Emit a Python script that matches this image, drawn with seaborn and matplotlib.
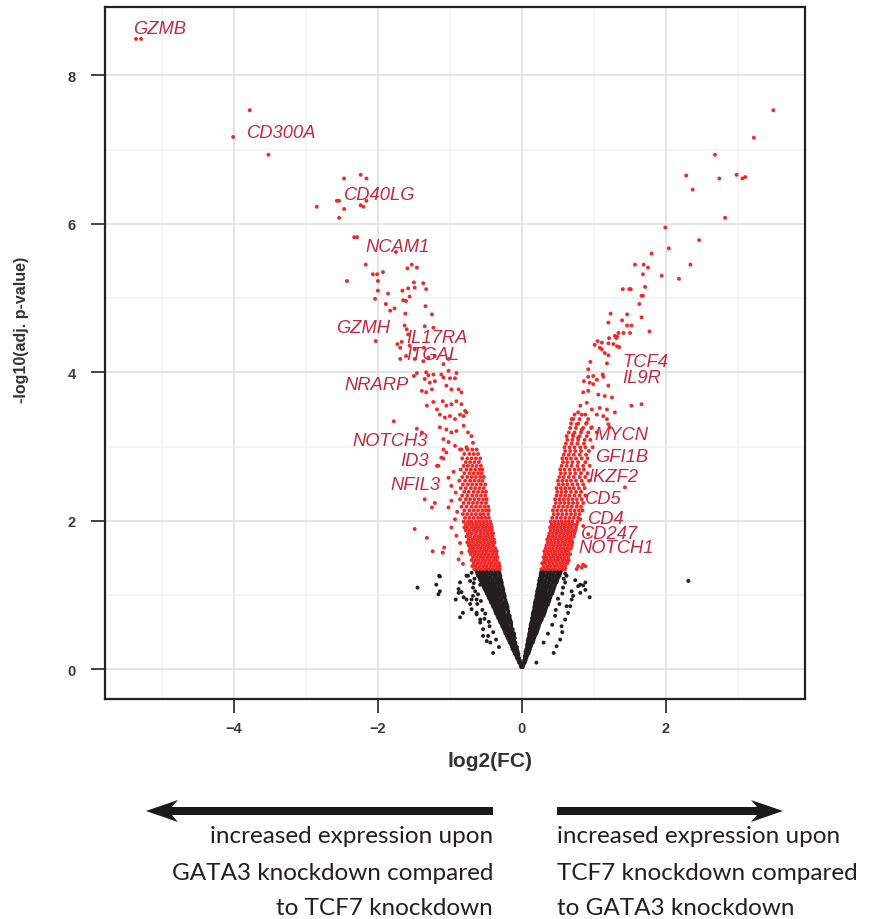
import matplotlib
matplotlib.use("Agg")
import matplotlib.pyplot as plt
import seaborn as sns
import pandas as pd
from matplotlib.patches import Polygon

# ---------------- data ----------------
# sparse significant points, left side (log2FC, -log10 adj p)
red_left_sparse = [
    (-5.36, 8.49), (-5.29, 8.49), (-3.78, 7.53), (-4.01, 7.17), (-3.52, 6.93),
    (-2.47, 6.61), (-2.24, 6.66), (-2.16, 6.61), (-2.85, 6.23), (-2.57, 6.31), (-2.54, 6.31),
    (-2.47, 6.20), (-2.24, 6.25), (-2.20, 6.23), (-2.16, 6.31), (-2.54, 6.08), (-2.33, 5.82), (-2.29, 5.82),
    (-1.75, 5.62), (-2.17, 5.45), (-2.07, 5.32), (-2.01, 5.32), (-1.93, 5.35), (-2.43, 5.23), (-2.00, 5.23),
    (-1.59, 5.40), (-1.53, 5.45), (-1.46, 5.41), (-1.50, 5.21), (-1.37, 5.20), (-1.49, 5.14), (-2.00, 5.10),
    (-1.86, 5.06), (-1.66, 5.10), (-1.58, 5.13), (-1.33, 5.12), (-2.04, 4.99), (-1.65, 4.97), (-1.61, 4.96),
    (-1.56, 5.02), (-1.89, 4.92), (-1.34, 4.89), (-1.83, 4.83), (-1.77, 4.86), (-1.62, 4.79), (-1.25, 4.78),
    (-1.63, 4.63), (-1.35, 4.62), (-1.23, 4.60), (-2.03, 4.42), (-1.60, 4.58), (-1.58, 4.51), (-1.73, 4.38),
    (-1.67, 4.41), (-1.69, 4.33), (-1.56, 4.36), (-1.49, 4.31), (-1.36, 4.33), (-1.69, 4.18), (-1.61, 4.22),
    (-1.49, 4.18), (-1.37, 4.15), (-1.30, 4.20), (-1.21, 4.22), (-1.09, 4.11), (-1.02, 4.18), (-1.46, 3.99),
    (-1.50, 3.95), (-1.33, 4.00), (-1.30, 3.96), (-1.23, 3.97), (-1.12, 3.97), (-1.02, 4.02), (-0.91, 3.99),
    (-1.35, 3.91), (-1.28, 3.86), (-1.21, 3.88), (-1.09, 3.93), (-1.00, 3.92), (-0.93, 3.92), (-1.39, 3.75),
    (-1.33, 3.73), (-1.25, 3.77), (-1.05, 3.82), (-0.98, 3.77), (-0.88, 3.77), (-0.84, 3.73), (-1.32, 3.55),
    (-1.23, 3.60), (-1.18, 3.50), (-1.10, 3.61), (-1.05, 3.55), (-0.98, 3.57), (-0.91, 3.61), (-0.84, 3.57),
    (-0.79, 3.48), (-1.78, 3.34), (-1.14, 3.43), (-1.07, 3.39), (-1.00, 3.41), (-0.93, 3.37), (-0.86, 3.43),
    (-0.81, 3.41), (-0.77, 3.46), (-1.46, 3.24), (-1.39, 3.19), (-1.14, 3.26), (-1.05, 3.23), (-0.98, 3.19),
    (-0.91, 3.21), (-0.81, 3.28), (-0.75, 3.19), (-0.70, 3.14), (-0.68, 3.05), (-1.09, 3.10), (-1.02, 3.06),
    (-0.93, 3.01), (-0.86, 2.96), (-0.77, 2.99), (-1.09, 2.96), (-1.05, 2.92), (-1.18, 2.74), (-1.09, 2.84),
    (-1.49, 1.89), (-1.32, 1.77), (-1.24, 1.59), (-1.10, 1.57), (-1.08, 1.64), (-1.35, 2.29), (-1.25, 2.18),
    (-1.21, 2.24), (-1.16, 2.74), (-1.12, 2.85), (-0.98, 2.27), (-1.02, 2.18), (-0.93, 2.02), (-0.98, 1.91),
    (-0.88, 1.48), (-0.84, 1.57), (-0.91, 1.80), (-1.02, 2.58), (-0.98, 2.47), (-0.92, 2.38), (-0.95, 2.66),
    (-0.90, 2.12), (-0.86, 1.70), (-0.82, 1.42),
]

red_right_sparse = [
    (3.49, 7.53), (3.22, 7.16), (2.68, 6.93), (2.28, 6.65), (2.74, 6.61), (2.98, 6.66), (3.06, 6.61),
    (3.10, 6.63), (2.37, 6.46), (2.82, 6.08), (1.99, 5.95), (2.46, 5.78), (2.04, 5.67), (1.80, 5.60),
    (2.34, 5.45), (1.57, 5.45), (1.69, 5.45), (1.75, 5.41), (1.68, 5.32), (1.94, 5.30), (2.18, 5.26),
    (1.71, 5.15), (1.40, 5.12), (1.49, 5.12), (1.51, 5.12), (1.66, 5.03), (1.68, 5.03), (1.63, 4.92),
    (1.23, 4.79), (1.46, 4.78), (1.66, 4.74), (1.20, 4.67), (1.39, 4.70), (1.46, 4.63), (1.52, 4.63),
    (1.77, 4.55), (1.34, 4.53), (1.29, 4.49), (1.41, 4.53), (1.50, 4.53), (1.21, 4.46), (1.31, 4.46),
    (1.32, 4.48), (1.05, 4.42), (1.11, 4.40), (1.01, 4.37), (1.20, 4.39), (1.27, 4.38), (1.32, 4.35),
    (1.35, 4.34), (1.08, 4.33), (1.11, 4.31), (1.15, 4.26), (1.20, 4.23), (0.95, 4.14), (1.18, 4.12),
    (0.92, 4.04), (0.92, 3.94), (0.99, 3.95), (1.12, 3.97), (1.13, 3.94), (0.86, 3.88), (0.94, 3.86),
    (1.04, 3.90), (0.85, 3.73), (0.92, 3.75), (1.06, 3.70), (1.15, 3.68), (1.20, 3.82), (1.25, 3.66),
    (0.99, 3.84), (1.52, 3.55), (1.66, 3.57), (0.81, 3.55), (0.90, 3.59), (0.97, 3.50), (1.08, 3.52),
    (1.18, 3.50), (1.29, 3.46), (0.78, 3.46), (0.88, 3.43), (1.04, 3.43), (1.13, 3.41), (1.18, 3.37),
    (1.20, 3.30), (1.22, 3.26), (0.69, 3.37), (0.76, 3.30), (0.83, 3.23), (0.90, 3.32), (0.97, 3.26),
    (1.04, 3.19), (0.71, 3.16), (0.78, 3.12),
    (0.78, 1.39), (0.85, 1.41), (1.43, 2.45), (0.81, 2.02), (0.85, 1.93), (0.92, 1.82), (0.76, 1.35),
    (0.83, 1.37), (0.88, 1.39),
]

# dense significant bands: (-log10 p, [log2FC values])
red_left_band = [
    (1.35, [-0.66, -0.61, -0.56, -0.51, -0.46, -0.41, -0.36, -0.31]),
    (1.39, [-0.69, -0.64, -0.59, -0.54, -0.49, -0.44, -0.39, -0.34, -0.31]),
    (1.43, [-0.67, -0.62, -0.57, -0.52, -0.47, -0.42, -0.37, -0.32]),
    (1.47, [-0.70, -0.65, -0.60, -0.55, -0.50, -0.45, -0.40, -0.35]),
    (1.51, [-0.68, -0.63, -0.58, -0.53, -0.48, -0.43, -0.38, -0.34]),
    (1.55, [-0.71, -0.66, -0.61, -0.56, -0.51, -0.46, -0.41, -0.36]),
    (1.59, [-0.73, -0.69, -0.64, -0.59, -0.54, -0.49, -0.44, -0.39, -0.35]),
    (1.63, [-0.72, -0.67, -0.62, -0.57, -0.52, -0.47, -0.42, -0.37]),
    (1.67, [-0.74, -0.70, -0.65, -0.60, -0.55, -0.50, -0.45, -0.40]),
    (1.71, [-0.76, -0.72, -0.67, -0.62, -0.57, -0.52, -0.47, -0.42, -0.38]),
    (1.75, [-0.74, -0.69, -0.64, -0.59, -0.54, -0.49, -0.44, -0.39]),
    (1.79, [-0.77, -0.72, -0.66, -0.61, -0.56, -0.51, -0.46, -0.41]),
    (1.83, [-0.75, -0.70, -0.64, -0.58, -0.53, -0.48, -0.43, -0.40]),
    (1.87, [-0.78, -0.73, -0.67, -0.62, -0.57, -0.52, -0.47, -0.42]),
    (1.91, [-0.80, -0.76, -0.70, -0.65, -0.60, -0.55, -0.50, -0.45, -0.42]),
    (1.95, [-0.78, -0.73, -0.68, -0.63, -0.58, -0.53, -0.48, -0.43]),
    (1.99, [-0.81, -0.75, -0.70, -0.64, -0.59, -0.54, -0.49, -0.44]),
    (2.04, [-0.79, -0.73, -0.67, -0.61, -0.56, -0.51, -0.46]),
    (2.09, [-0.82, -0.76, -0.70, -0.64, -0.58, -0.53, -0.47]),
    (2.14, [-0.80, -0.73, -0.67, -0.61, -0.55, -0.50, -0.46]),
    (2.19, [-0.84, -0.77, -0.70, -0.64, -0.58, -0.52, -0.47]),
    (2.24, [-0.81, -0.74, -0.68, -0.62, -0.56, -0.50]),
    (2.29, [-0.86, -0.78, -0.72, -0.66, -0.60, -0.54, -0.49]),
    (2.34, [-0.83, -0.76, -0.69, -0.63, -0.57, -0.51]),
    (2.39, [-0.80, -0.74, -0.67, -0.61, -0.55, -0.50]),
    (2.44, [-0.85, -0.78, -0.71, -0.65, -0.59, -0.53]),
    (2.49, [-0.82, -0.75, -0.69, -0.63, -0.57, -0.51]),
    (2.54, [-0.87, -0.79, -0.72, -0.66, -0.60, -0.55]),
    (2.59, [-0.83, -0.76, -0.70, -0.64, -0.58, -0.53]),
    (2.64, [-0.80, -0.73, -0.67, -0.61, -0.56]),
    (2.69, [-0.85, -0.77, -0.71, -0.65, -0.59, -0.55]),
    (2.74, [-0.81, -0.75, -0.69, -0.63, -0.57]),
    (2.79, [-0.78, -0.72, -0.66, -0.60]),
    (2.84, [-0.83, -0.76, -0.70, -0.64, -0.58]),
    (2.90, [-0.80, -0.73, -0.67, -0.61]),
    (2.96, [-0.84, -0.76, -0.69, -0.63]),
]

red_right_band = [
    (1.35, [0.27, 0.32, 0.37, 0.42, 0.47, 0.52, 0.57, 0.60]),
    (1.39, [0.30, 0.35, 0.40, 0.45, 0.50, 0.55, 0.60]),
    (1.43, [0.28, 0.33, 0.38, 0.43, 0.48, 0.53, 0.58, 0.63]),
    (1.47, [0.31, 0.36, 0.41, 0.46, 0.51, 0.56, 0.61, 0.65]),
    (1.51, [0.30, 0.34, 0.39, 0.44, 0.49, 0.54, 0.59, 0.64]),
    (1.55, [0.32, 0.37, 0.42, 0.47, 0.52, 0.57, 0.62, 0.67]),
    (1.59, [0.31, 0.35, 0.40, 0.45, 0.50, 0.55, 0.60, 0.65]),
    (1.63, [0.33, 0.38, 0.43, 0.48, 0.53, 0.58, 0.63, 0.68]),
    (1.67, [0.34, 0.39, 0.44, 0.49, 0.54, 0.59, 0.64, 0.69]),
    (1.71, [0.36, 0.41, 0.46, 0.51, 0.56, 0.61, 0.66, 0.70]),
    (1.75, [0.35, 0.40, 0.45, 0.50, 0.55, 0.60, 0.65, 0.69]),
    (1.79, [0.37, 0.42, 0.47, 0.52, 0.57, 0.62, 0.67, 0.72]),
    (1.83, [0.38, 0.43, 0.48, 0.53, 0.58, 0.63, 0.68, 0.73]),
    (1.87, [0.40, 0.45, 0.50, 0.55, 0.60, 0.65, 0.70, 0.74]),
    (1.91, [0.39, 0.44, 0.49, 0.54, 0.59, 0.64, 0.69, 0.75]),
    (1.95, [0.41, 0.46, 0.51, 0.56, 0.61, 0.66, 0.71, 0.76]),
    (1.99, [0.40, 0.45, 0.50, 0.55, 0.60, 0.65, 0.70, 0.77]),
    (2.04, [0.42, 0.48, 0.54, 0.60, 0.66, 0.72, 0.78]),
    (2.09, [0.44, 0.50, 0.56, 0.62, 0.68, 0.74, 0.80]),
    (2.14, [0.43, 0.49, 0.55, 0.61, 0.67, 0.73, 0.79, 0.84]),
    (2.19, [0.45, 0.51, 0.57, 0.63, 0.69, 0.76, 0.82]),
    (2.24, [0.47, 0.53, 0.59, 0.65, 0.71, 0.77, 0.85]),
    (2.29, [0.46, 0.52, 0.58, 0.64, 0.70, 0.76, 0.83]),
    (2.34, [0.48, 0.54, 0.60, 0.66, 0.73, 0.80, 0.88]),
    (2.39, [0.49, 0.55, 0.61, 0.68, 0.75, 0.82]),
    (2.44, [0.48, 0.54, 0.60, 0.66, 0.72, 0.79, 0.87]),
    (2.49, [0.51, 0.57, 0.63, 0.70, 0.77, 0.85]),
    (2.54, [0.50, 0.56, 0.62, 0.68, 0.75, 0.83, 0.93]),
    (2.59, [0.52, 0.58, 0.65, 0.72, 0.80, 0.88]),
    (2.64, [0.54, 0.60, 0.67, 0.74, 0.82, 0.91]),
    (2.69, [0.53, 0.59, 0.66, 0.73, 0.79, 0.86]),
    (2.74, [0.55, 0.62, 0.69, 0.77, 0.85, 0.94]),
    (2.79, [0.57, 0.63, 0.70, 0.78, 0.88]),
    (2.84, [0.56, 0.62, 0.68, 0.75, 0.83, 0.91]),
    (2.89, [0.58, 0.65, 0.72, 0.80, 0.89]),
    (2.94, [0.60, 0.67, 0.74, 0.82, 0.93]),
    (2.99, [0.59, 0.66, 0.73, 0.81, 0.88, 0.98]),
    (3.04, [0.61, 0.69, 0.77, 0.86]),
    (3.09, [0.63, 0.70, 0.78, 0.87, 0.95]),
    (3.14, [0.62, 0.71, 0.80, 0.90]),
    (3.19, [0.65, 0.73, 0.82, 0.92]),
    (3.25, [0.67, 0.75, 0.85, 0.96]),
    (3.31, [0.68, 0.78, 0.89]),
    (3.37, [0.71, 0.80, 0.92]),
    (3.43, [0.73, 0.83]),
]

# non-significant core (black), as rows
black_left_band = [
    (0.03, [-0.01]), (0.06, [-0.02]), (0.09, [-0.04, -0.02]), (0.12, [-0.05, -0.03]),
    (0.15, [-0.07, -0.04]), (0.18, [-0.08, -0.05]), (0.21, [-0.10, -0.07, -0.05]),
    (0.24, [-0.11, -0.08, -0.06]), (0.27, [-0.13, -0.10, -0.07]), (0.30, [-0.14, -0.11, -0.07]),
    (0.33, [-0.15, -0.12, -0.09]), (0.36, [-0.17, -0.13, -0.09]), (0.39, [-0.18, -0.15, -0.11]),
    (0.42, [-0.20, -0.16, -0.12, -0.10]), (0.45, [-0.21, -0.18, -0.14, -0.11]),
    (0.48, [-0.23, -0.19, -0.15, -0.11]), (0.51, [-0.24, -0.21, -0.17, -0.13]),
    (0.54, [-0.25, -0.22, -0.18, -0.13]), (0.57, [-0.27, -0.23, -0.19, -0.15]),
    (0.60, [-0.28, -0.24, -0.20, -0.15]), (0.63, [-0.30, -0.26, -0.22, -0.18, -0.15]),
    (0.66, [-0.31, -0.27, -0.23, -0.19, -0.16]), (0.69, [-0.33, -0.29, -0.25, -0.21, -0.17]),
    (0.72, [-0.34, -0.30, -0.26, -0.22, -0.17]), (0.75, [-0.36, -0.32, -0.28, -0.24, -0.19]),
    (0.78, [-0.37, -0.33, -0.29, -0.25, -0.19]), (0.81, [-0.38, -0.34, -0.30, -0.26, -0.22, -0.20]),
    (0.84, [-0.40, -0.36, -0.32, -0.28, -0.24, -0.20]), (0.87, [-0.41, -0.37, -0.33, -0.29, -0.25, -0.21]),
    (0.90, [-0.43, -0.39, -0.35, -0.31, -0.26, -0.22]), (0.93, [-0.44, -0.40, -0.36, -0.32, -0.28, -0.23]),
    (0.96, [-0.46, -0.42, -0.38, -0.34, -0.29, -0.24]),
    (0.99, [-0.47, -0.43, -0.39, -0.35, -0.31, -0.26, -0.24]),
    (1.02, [-0.49, -0.45, -0.41, -0.37, -0.32, -0.28, -0.25]),
    (1.05, [-0.50, -0.46, -0.42, -0.38, -0.34, -0.29, -0.26]),
    (1.08, [-0.52, -0.48, -0.44, -0.40, -0.35, -0.31, -0.26]),
    (1.11, [-0.53, -0.49, -0.45, -0.41, -0.37, -0.32, -0.27]),
    (1.14, [-0.55, -0.51, -0.47, -0.43, -0.38, -0.33, -0.28]),
    (1.17, [-0.56, -0.52, -0.48, -0.44, -0.40, -0.35, -0.31, -0.28]),
    (1.20, [-0.58, -0.54, -0.50, -0.46, -0.41, -0.36, -0.32, -0.29]),
    (1.23, [-0.59, -0.55, -0.51, -0.47, -0.43, -0.38, -0.34, -0.30]),
    (1.26, [-0.61, -0.57, -0.53, -0.49, -0.44, -0.39, -0.35, -0.30]),
    (1.29, [-0.62, -0.58, -0.54, -0.50, -0.46, -0.41, -0.36, -0.31]),
    (1.32, [-0.63, -0.59, -0.55, -0.51, -0.47, -0.42, -0.37, -0.32]),
]

black_right_band = [
    (0.03, [0.01]), (0.06, [0.02]), (0.09, [0.02, 0.04]), (0.12, [0.03, 0.05]),
    (0.15, [0.04, 0.06]), (0.18, [0.04, 0.07]), (0.21, [0.05, 0.07, 0.09]),
    (0.24, [0.05, 0.08, 0.10]), (0.27, [0.06, 0.09, 0.11]), (0.30, [0.07, 0.10, 0.12]),
    (0.33, [0.07, 0.10, 0.13]), (0.36, [0.08, 0.11, 0.15]), (0.39, [0.08, 0.12, 0.16]),
    (0.42, [0.09, 0.12, 0.15, 0.17]), (0.45, [0.10, 0.13, 0.16, 0.18]),
    (0.48, [0.10, 0.14, 0.17, 0.20]), (0.51, [0.11, 0.14, 0.18, 0.21]),
    (0.54, [0.11, 0.15, 0.19, 0.22]), (0.57, [0.12, 0.16, 0.20, 0.23]),
    (0.60, [0.12, 0.16, 0.20, 0.24]), (0.63, [0.13, 0.17, 0.21, 0.25]),
    (0.66, [0.14, 0.18, 0.22, 0.26, 0.27]), (0.69, [0.14, 0.18, 0.22, 0.26, 0.28]),
    (0.72, [0.15, 0.19, 0.23, 0.27, 0.30]), (0.75, [0.15, 0.19, 0.23, 0.27, 0.31]),
    (0.78, [0.16, 0.20, 0.24, 0.28, 0.32]), (0.81, [0.17, 0.21, 0.25, 0.29, 0.33]),
    (0.84, [0.17, 0.21, 0.25, 0.29, 0.34]), (0.87, [0.18, 0.22, 0.26, 0.30, 0.34, 0.36]),
    (0.90, [0.18, 0.22, 0.26, 0.30, 0.34, 0.37]), (0.93, [0.19, 0.23, 0.27, 0.31, 0.35, 0.38]),
    (0.96, [0.20, 0.24, 0.28, 0.32, 0.36, 0.39]), (0.99, [0.20, 0.24, 0.28, 0.32, 0.36, 0.40]),
    (1.02, [0.21, 0.25, 0.29, 0.33, 0.37, 0.42]), (1.05, [0.21, 0.25, 0.29, 0.33, 0.38, 0.43]),
    (1.08, [0.22, 0.26, 0.30, 0.34, 0.39, 0.44]), (1.11, [0.23, 0.27, 0.31, 0.35, 0.40, 0.45]),
    (1.14, [0.23, 0.27, 0.31, 0.36, 0.41, 0.46]), (1.17, [0.24, 0.28, 0.32, 0.37, 0.42, 0.46, 0.48]),
    (1.20, [0.24, 0.28, 0.33, 0.38, 0.42, 0.47, 0.49]), (1.23, [0.25, 0.29, 0.34, 0.38, 0.43, 0.48, 0.50]),
    (1.26, [0.26, 0.30, 0.34, 0.39, 0.44, 0.48, 0.52]), (1.29, [0.26, 0.30, 0.35, 0.40, 0.44, 0.49, 0.53]),
    (1.32, [0.27, 0.31, 0.36, 0.40, 0.45, 0.50, 0.54]),
]

black_sparse = [
    (-1.14, 1.25), (-0.88, 1.08), (-0.84, 1.04), (-0.92, 0.94), (-0.81, 0.97), (-0.77, 0.94),
    (-0.68, 0.99), (-0.63, 0.94), (-0.70, 0.81), (-0.63, 0.74), (-0.82, 0.76), (-0.86, 0.70),
    (-0.58, 0.63), (-0.54, 0.54), (-0.47, 0.45), (-0.40, 0.22), (-0.44, 0.36), (-0.58, 1.14),
    (-0.72, 1.19), (-0.68, 1.10), (-0.77, 1.26), (-1.45, 1.10), (-1.15, 1.26), (-1.19, 1.14),
    (-1.14, 1.05), (-1.16, 1.01), (-0.86, 1.17), (-0.75, 1.26), (-0.70, 0.94), (-0.72, 0.88),
    (-0.54, 0.45), (-0.49, 0.38), (-0.88, 1.03), (-0.58, 0.67), (-0.63, 0.76), (-0.66, 1.22),
    (-0.65, 1.05), (-0.62, 0.88), (-0.55, 0.80), (-0.52, 0.68), (-0.45, 0.58), (-0.40, 0.50),
    (-0.36, 0.40), (-0.32, 0.30), (-0.70, 1.30), (-0.67, 1.16), (-0.61, 1.01), (-0.57, 0.92),
    (-0.51, 0.75), (-0.46, 0.64),
    (0.81, 1.14), (0.88, 1.17), (0.94, 0.97), (0.69, 1.05), (0.71, 0.99), (0.62, 1.26), (0.60, 1.17),
    (0.67, 0.85), (0.64, 0.76), (0.55, 0.58), (0.53, 0.40), (0.44, 0.22), (0.81, 1.03), (0.78, 1.12),
    (0.85, 1.13), (0.88, 1.07), (0.69, 0.94), (0.62, 0.85), (0.60, 0.67), (0.48, 0.31), (0.20, 0.09),
    (0.58, 1.22), (0.56, 1.02), (0.52, 0.88), (0.46, 0.72), (0.42, 0.60), (0.36, 0.48), (0.30, 0.36),
    (0.56, 0.50), (0.74, 1.20), (0.60, 1.29), (0.57, 1.10), (0.50, 0.95), (0.47, 0.80), (2.31, 1.19),
]

# gene labels
label_names = ["GZMB", "CD300A", "CD40LG", "NCAM1", "GZMH", "IL17RA", "ITGAL", "NRARP",
               "NOTCH3", "ID3", "NFIL3", "TCF4", "IL9R", "MYCN", "GFI1B", "IKZF2",
               "CD5", "CD4", "CD247", "NOTCH1"]
label_x = [-5.40, -3.82, -2.47, -2.17, -2.58, -1.60, -1.60, -2.47, -2.35, -1.69, -1.83,
           1.39, 1.39, 1.01, 1.01, 0.92, 0.88, 0.92, 0.82, 0.78]
label_y = [8.63, 7.23, 6.40, 5.70, 4.61, 4.47, 4.24, 3.84, 3.08, 2.81, 2.49,
           4.15, 3.93, 3.16, 2.86, 2.60, 2.30, 2.03, 1.83, 1.64]

x_ticks = [-4, -2, 0, 2]
y_ticks = [0, 2, 4, 6, 8]
x_label = "log2(FC)"
y_label = "-log10(adj. p-value)"
left_caption = ["increased expression upon", "GATA3 knockdown compared", "to TCF7 knockdown"]
right_caption = ["increased expression upon", "TCF7 knockdown compared", "to GATA3 knockdown"]

# ---------------- build table ----------------
rows = []
for band in (black_left_band, black_right_band):
    for y, xs in band:
        for x in xs:
            rows.append((x, y, "ns"))
for x, y in black_sparse:
    rows.append((x, y, "ns"))
for x, y in red_left_sparse + red_right_sparse:
    rows.append((x, y, "sig"))
for band in (red_left_band, red_right_band):
    for y, xs in band:
        for x in xs:
            rows.append((x, y, "sig"))
df = pd.DataFrame(rows, columns=["log2FC", "nlogp", "group"])

# ---------------- figure ----------------
sns.set_theme(style="white")
plt.rcParams["font.family"] = ["Liberation Sans", "DejaVu Sans"]

W, H = 895, 920
fig = plt.figure(figsize=(W / 100, H / 100), dpi=100)
ax = fig.add_axes([105 / W, 1 - 700 / H, 700 / W, 692 / H])

sns.scatterplot(data=df, x="log2FC", y="nlogp", hue="group",
                palette={"sig": "#ee2b2b", "ns": "#231f20"},
                s=8, linewidth=0, legend=False, ax=ax, zorder=3)

ax.set_xlim(-5.79, 3.93)
ax.set_ylim(-0.40, 8.92)
ax.set_xticks(x_ticks)
ax.set_yticks(y_ticks)
ax.set_xticks([-5, -3, -1, 1, 3], minor=True)
ax.set_yticks([1, 3, 5, 7], minor=True)
ax.grid(which="major", color="#e4e4e4", lw=1.4)
ax.grid(which="minor", color="#f2f2f2", lw=1.1)
ax.set_axisbelow(True)
for sp in ax.spines.values():
    sp.set_visible(True)
    sp.set_color("#222222")
    sp.set_linewidth(1.6)
ax.tick_params(which="major", direction="out", length=10, width=1.2, color="#222222",
               labelsize=10.5, labelcolor="#3a3a3a", bottom=True, left=True)
ax.tick_params(axis="x", which="major", pad=6)
ax.tick_params(axis="y", which="major", pad=11)
ax.tick_params(which="minor", length=0)
for lab in ax.get_xticklabels() + ax.get_yticklabels():
    lab.set_fontweight("bold")

ax.set_xlabel(x_label, fontsize=15, fontweight="bold", color="#333333")
ax.set_ylabel(y_label, fontsize=11.5, fontweight="bold", color="#333333")
ax.xaxis.set_label_coords((490 - 105) / 700, (700 - 752) / 692)
ax.yaxis.set_label_coords((29 - 105) / 700, (700 - 330) / 692)

for name, lx, ly in zip(label_names, label_x, label_y):
    ax.text(lx, ly, name, ha="left", va="center", fontsize=13.2, style="italic",
            color="#c4283f", zorder=5)

# ---------------- arrows and captions ----------------
def fx(px):
    return px / W

def fy(py):
    return 1 - py / H

left_arrow = [(493, 808), (172, 808), (178, 801), (146, 812), (178, 823), (172, 816), (493, 816)]
right_arrow = [(557, 808), (757, 808), (751, 801), (783, 812), (751, 823), (757, 816), (557, 816)]
for poly in (left_arrow, right_arrow):
    fig.add_artist(Polygon([(fx(a), fy(b)) for a, b in poly], closed=True,
                           transform=fig.transFigure, facecolor="#1a1a1a", edgecolor="none"))

baselines = [843, 880, 915]
for line, b in zip(left_caption, baselines):
    fig.text(fx(493), fy(b), line, ha="right", va="baseline", fontsize=17.5,
             family=["Lato", "DejaVu Sans"], color="#231f20")
for line, b in zip(right_caption, baselines):
    fig.text(fx(557), fy(b), line, ha="left", va="baseline", fontsize=17.5,
             family=["Lato", "DejaVu Sans"], color="#231f20")

fig.savefig("out.png", dpi=100)
